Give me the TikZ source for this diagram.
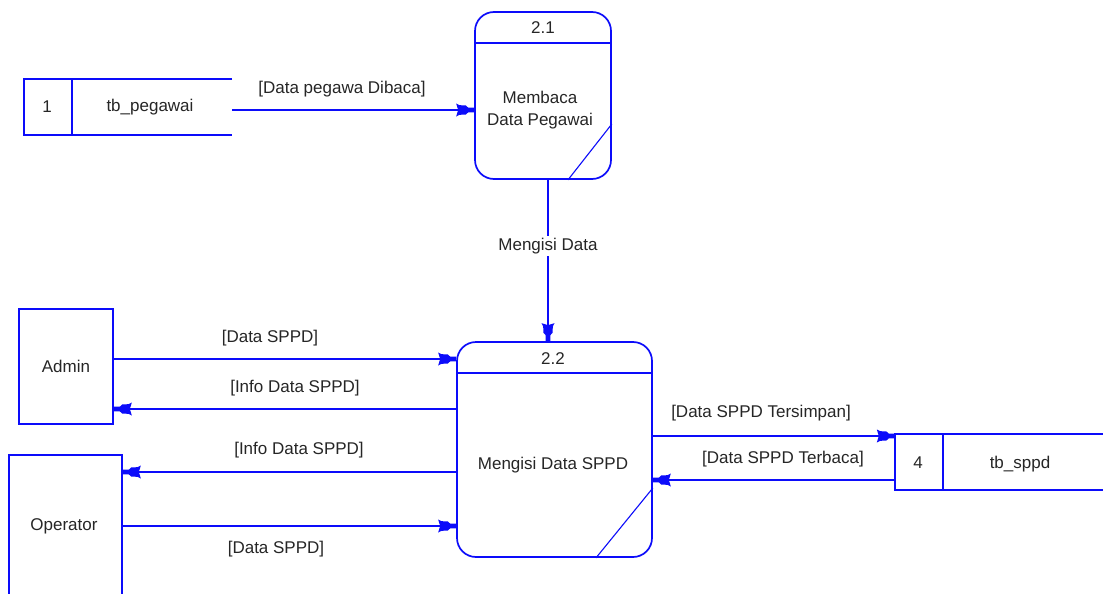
\documentclass[tikz,border=0pt]{standalone}
\usepackage{fontspec}
\setmainfont{Liberation Sans}

% DFD flow tip: eared body with a short neck touching the target
\pgfdeclarearrow{
  name = dfd,
  setup code = {
    \pgfarrowssettipend{0pt}
    \pgfarrowssetbackend{-18pt}
    \pgfarrowssetlineend{-9pt}
    \pgfarrowshullpoint{0pt}{2.5pt}
    \pgfarrowshullpoint{0pt}{-2.5pt}
    \pgfarrowshullpoint{-18pt}{6.5pt}
    \pgfarrowshullpoint{-18pt}{-6.5pt}
  },
  drawing code = {
    \pgfpathmoveto{\pgfpoint{0pt}{2.4pt}}
    \pgfpathlineto{\pgfpoint{-6pt}{2.4pt}}
    \pgfpathlineto{\pgfpoint{-8.5pt}{4.6pt}}
    \pgfpathlineto{\pgfpoint{-14.5pt}{4.8pt}}
    \pgfpathlineto{\pgfpoint{-18pt}{6.5pt}}
    \pgfpathlineto{\pgfpoint{-16pt}{0pt}}
    \pgfpathlineto{\pgfpoint{-18pt}{-6.5pt}}
    \pgfpathlineto{\pgfpoint{-14.5pt}{-4.8pt}}
    \pgfpathlineto{\pgfpoint{-8.5pt}{-4.6pt}}
    \pgfpathlineto{\pgfpoint{-6pt}{-2.4pt}}
    \pgfpathlineto{\pgfpoint{0pt}{-2.4pt}}
    \pgfpathclose
    \pgfusepathqfill
  }
}

\definecolor{dfdblue}{RGB}{12,12,250}

\tikzset{
  every node/.style={font=\fontsize{17}{20}\selectfont, text=black!85, inner sep=0pt},
  lbl/.style={fill=white, inner sep=2pt},
  edge/.style={draw=dfdblue, line width=1.7pt},
  thinedge/.style={draw=dfdblue, line width=1.1pt},
  flow/.style={draw=dfdblue, line width=1.7pt, -dfd},
  proc/.style={draw=dfdblue, line width=1.7pt, rounded corners=19pt},
  entity/.style={draw=dfdblue, line width=1.7pt},
  store/.style={minimum width=#1, minimum height=56pt},
}

\begin{document}
\begin{tikzpicture}[x=1pt, y=-1pt]
  \useasboundingbox (0,0) rectangle (1103,594);
  \fill[white] (0,0) rectangle (1103,594);
  \clip (0,0) rectangle (1103,594);

  % data store 1: tb_pegawai
  \node[store=208pt] (ds1) at (128,107) {};
  \draw[edge] (ds1.north east) -- (ds1.north west) -- (ds1.south west) -- (ds1.south east);
  \draw[edge] (ds1.north west -| 72,0) -- (ds1.south west -| 72,0);
  \node (ds1id) at (47,107) {1};
  \node (ds1nm) at (150,107) {tb\_pegawai};

  % data store 4: tb_sppd (runs off the right edge)
  \node[store=215pt] (ds4) at (1002.5,462) {};
  \draw[edge] (ds4.north east) -- (ds4.north west) -- (ds4.south west) -- (ds4.south east);
  \draw[edge] (ds4.north west -| 943,0) -- (ds4.south west -| 943,0);
  \node (ds4id) at (918,463) {4};
  \node (ds4nm) at (1020,464) {tb\_sppd};

  % process 2.1
  \node[proc, minimum width=136pt, minimum height=167pt] (p21) at (543,95.5) {};
  \draw[edge] (p21.west |- 0,43) -- (p21.east |- 0,43);
  \draw[thinedge] (p21.east |- 0,124) -- (p21.south -| 568,0);
  \node (p21id) at (543,28) {2.1};
  \node[align=center] (p21nm) at (540,110) {Membaca\\[2pt]Data Pegawai};

  % process 2.2
  \node[proc, minimum width=195pt, minimum height=215pt] (p22) at (554.5,449.5) {};
  \draw[edge] (p22.west |- 0,373) -- (p22.east |- 0,373);
  \draw[thinedge] (p22.east |- 0,488) -- (p22.south -| 596,0);
  \node (p22id) at (553,359) {2.2};
  \node (p22nm) at (553,465) {Mengisi Data SPPD};

  % external entities
  \node[entity, minimum width=94pt, minimum height=115pt] (admin) at (66,366.5) {Admin};
  \node[entity, minimum width=113pt, minimum height=170pt] (oper) at (65.5,540) {};
  \node (opernm) at (64,526) {Operator};

  % flows
  \draw[flow] (ds1.east |- 0,110) -- (p21.west |- 0,110);
  \node (f1) at (342,89) {[Data pegawa Dibaca]};

  \draw[flow] (p21.south -| 548,0) -- (p22.north -| 548,0);
  \node[lbl] (f2) at (548,246) {Mengisi Data};

  \draw[flow] (admin.east |- 0,359) -- (p22.west |- 0,359);
  \node (f3) at (270,338) {[Data SPPD]};

  \draw[flow] (p22.west |- 0,409) -- (admin.east |- 0,409);
  \node (f4) at (295,388) {[Info Data SPPD]};

  \draw[flow] (p22.west |- 0,472) -- (oper.east |- 0,472);
  \node (f5) at (299,450) {[Info Data SPPD]};

  \draw[flow] (oper.east |- 0,526) -- (p22.west |- 0,526);
  \node (f6) at (276,549) {[Data SPPD]};

  \draw[flow] (p22.east |- 0,436) -- (ds4.west |- 0,436);
  \node (f7) at (761,413) {[Data SPPD Tersimpan]};

  \draw[flow] (ds4.west |- 0,480) -- (p22.east |- 0,480);
  \node (f8) at (783,459) {[Data SPPD Terbaca]};
\end{tikzpicture}
\end{document}
